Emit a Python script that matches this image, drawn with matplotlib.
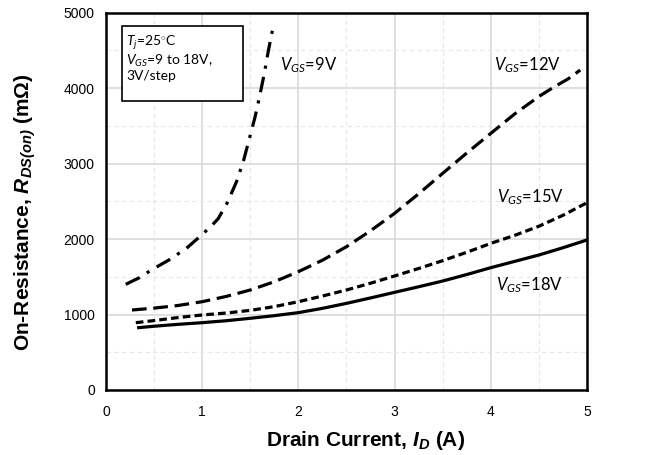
import numpy as np
import matplotlib
matplotlib.use("Agg")
import matplotlib.pyplot as plt
from matplotlib.patches import Rectangle

# drain current (A) and on-resistance (mOhm) per gate voltage
id_18 = [0.34, 0.5, 0.75, 1.0, 1.25, 1.5, 1.75, 2.0, 2.25, 2.5, 2.75, 3.0, 3.25, 3.5,
         3.75, 4.0, 4.25, 4.5, 4.75, 5.0]
r_18 = [826, 845, 870, 892, 918, 950, 985, 1025, 1082, 1148, 1220, 1294, 1368, 1444,
        1530, 1621, 1705, 1789, 1885, 1988]
id_15 = [0.31, 0.5, 0.75, 1.0, 1.25, 1.5, 1.75, 2.0, 2.25, 2.5, 2.75, 3.0, 3.25, 3.5,
         3.75, 4.0, 4.25, 4.5, 4.75, 5.0]
r_15 = [892, 920, 960, 994, 1020, 1055, 1105, 1170, 1245, 1325, 1415, 1511, 1610, 1714,
        1825, 1943, 2050, 2170, 2315, 2482]
id_12 = [0.27, 0.5, 0.75, 1.0, 1.25, 1.5, 1.75, 2.0, 2.25, 2.5, 2.75, 3.0, 3.25, 3.5,
         3.75, 4.0, 4.25, 4.5, 4.65, 4.8, 4.93]
r_12 = [1060, 1085, 1120, 1170, 1240, 1325, 1435, 1568, 1720, 1899, 2110, 2341, 2600, 2871,
        3140, 3401, 3660, 3890, 4010, 4120, 4240]
id_9 = [0.205, 0.35, 0.472, 0.65, 0.836, 1.0, 1.1, 1.166, 1.26, 1.357, 1.43, 1.496, 1.55,
        1.6, 1.645, 1.686, 1.745]
r_9 = [1400, 1490, 1590, 1720, 1877, 2060, 2180, 2270, 2480, 2760, 3040, 3357, 3620,
       3909, 4190, 4483, 4859]

plt.rcParams['mathtext.fontset'] = 'custom'
plt.rcParams['mathtext.rm'] = 'Lato'
plt.rcParams['mathtext.it'] = 'Lato:italic'
plt.rcParams['mathtext.bfit'] = 'Liberation Sans:italic:bold'

fig = plt.figure(figsize=(6.47, 4.55), dpi=100)
ax = fig.add_axes([0.1638, 0.1429, 0.7434, 0.8291])

lw = 2.3
ax.plot(id_9, r_9, color='black', lw=lw, dashes=(4.9, 2.6, 1, 2.6))
ax.plot(id_12, r_12, color='black', lw=lw, dashes=(4.6, 2.1))
ax.plot(id_15, r_15, color='black', lw=lw, dashes=(2.4, 1.3))
ax.plot(id_18, r_18, color='black', lw=lw)

ax.set_xlim(0, 5)
ax.set_ylim(0, 5000)
ax.set_xticks(range(0, 6))
ax.set_yticks(range(0, 5001, 1000))
ax.set_xticks(np.arange(0.5, 5, 1), minor=True)
ax.set_yticks(np.arange(500, 5000, 1000), minor=True)
ax.grid(True, which='major', color='#d9d9d9', lw=1.2)
ax.grid(True, which='minor', color='#e6e6e6', lw=0.8, ls=(0, (4, 3)))
ax.set_axisbelow(True)
ax.tick_params(which='both', length=0, labelsize=10)
ax.tick_params(axis='x', pad=11)
ax.tick_params(axis='y', pad=8)
for lab in ax.get_xticklabels() + ax.get_yticklabels():
    lab.set_family('Liberation Sans')
for s in ax.spines.values():
    s.set_linewidth(1.8)

ax.set_xlabel(r'Drain Current, $\mathbfit{I_D}$ (A)', fontsize=15, fontweight='bold',
              family='Liberation Sans')
ax.set_ylabel(r'On-Resistance, $\mathbfit{R_{DS(on)}}$ (mΩ)', fontsize=15,
              fontweight='bold', family='Liberation Sans')
ax.xaxis.set_label_coords(0.54, -0.104)
ax.yaxis.set_label_coords(-0.142, 0.47)

lab_kw = dict(fontsize=12, family='Lato')
ax.text(1.81, 4307, r'$V_{GS}$=9V', va='center', **lab_kw)
ax.text(4.03, 4307, r'$V_{GS}$=12V', va='center', **lab_kw)
ax.text(4.06, 2562, r'$V_{GS}$=15V', va='center', **lab_kw)
ax.text(4.05, 1391, r'$V_{GS}$=18V', va='center', **lab_kw)

ax.add_patch(Rectangle((0.033, 0.766), 0.252, 0.199, transform=ax.transAxes,
                       fc='white', ec='black', lw=1.2, zorder=3))
ax.text(0.042, 0.945, '$T_j$=25$^{\\circ}$C\n$V_{GS}$=9 to 18V,\n3V/step',
        transform=ax.transAxes, fontsize=10, family='Lato', va='top', linespacing=1.1,
        zorder=4)

fig.savefig('out.png', dpi=100)
